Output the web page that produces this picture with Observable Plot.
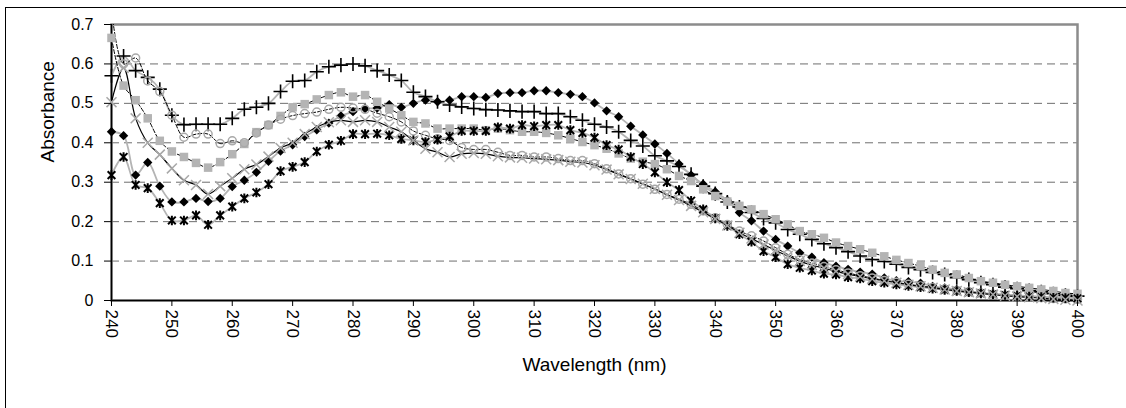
<!DOCTYPE html>
<html>
<head>
<meta charset="utf-8">
<script src="https://cdn.jsdelivr.net/npm/d3@7"></script>
<script src="https://cdn.jsdelivr.net/npm/@observablehq/plot@0.6"></script>
<style>
  html, body { margin: 0; padding: 0; background: #fff; overflow: hidden; }
  #wrap { position: relative; width: 1126px; height: 408px; overflow: hidden; }
  #outer { position: absolute; left: 5px; top: 7px; width: 1300px; height: 600px; border-left: 1px solid #000; border-top: 1px solid #000; }
  #chart { position: absolute; left: 0; top: 0; }
</style>
</head>
<body>
<div id="wrap"><div id="outer"></div><div id="chart"></div></div>
<script>
const wavelengths = [240,242,244,246,248,250,252,254,256,258,260,262,264,266,268,270,272,274,276,278,280,282,284,286,288,290,292,294,296,298,300,302,304,306,308,310,312,314,316,318,320,322,324,326,328,330,332,334,336,338,340,342,344,346,348,350,352,354,356,358,360,362,364,366,368,370,372,374,376,378,380,382,384,386,388,390,392,394,396,398,400];

const diamonds = [.428,.418,.318,.350,.290,.250,.250,.259,.251,.259,.289,.305,.325,.353,.379,.395,.416,.433,.450,.468,.479,.487,.488,.497,.490,.500,.508,.504,.508,.517,.517,.515,.525,.527,.527,.532,.532,.527,.523,.517,.501,.481,.466,.442,.420,.397,.373,.346,.318,.295,.276,.254,.223,.202,.176,.155,.138,.121,.110,.096,.087,.079,.072,.067,.057,.050,.048,.044,.036,.032,.028,.024,.020,.017,.015,.013,.011,.009,.008,.007,.007];

const pluses = [.570,.620,.583,.566,.536,.470,.446,.447,.447,.447,.462,.485,.490,.500,.530,.556,.558,.580,.593,.597,.600,.595,.583,.572,.558,.528,.517,.504,.496,.491,.487,.484,.483,.481,.479,.479,.474,.474,.466,.457,.447,.440,.428,.406,.392,.367,.354,.340,.320,.290,.271,.250,.237,.223,.208,.197,.180,.168,.155,.144,.134,.124,.113,.104,.099,.092,.084,.078,.071,.066,.058,.053,.045,.040,.034,.030,.025,.022,.017,.013,.011];

const squares = [.666,.545,.508,.462,.405,.378,.364,.349,.337,.351,.371,.397,.427,.445,.468,.490,.498,.510,.521,.528,.517,.521,.504,.487,.470,.453,.449,.436,.436,.436,.436,.432,.436,.432,.428,.428,.425,.419,.411,.402,.394,.385,.373,.360,.352,.346,.333,.316,.303,.282,.265,.251,.240,.231,.219,.206,.193,.176,.168,.159,.147,.138,.130,.121,.112,.103,.095,.087,.078,.070,.066,.057,.049,.045,.040,.036,.032,.028,.024,.019,.017];

const circles = [.740,.600,.615,.557,.530,.470,.414,.422,.422,.398,.405,.400,.425,.445,.460,.469,.474,.478,.485,.490,.488,.485,.475,.466,.453,.430,.419,.410,.406,.388,.383,.383,.376,.368,.368,.364,.364,.360,.355,.355,.347,.334,.321,.309,.295,.282,.269,.257,.244,.227,.210,.193,.176,.164,.151,.134,.117,.104,.095,.086,.078,.070,.063,.057,.051,.046,.041,.037,.033,.029,.025,.022,.019,.016,.013,.011,.009,.007,.005,.004,.003];

const asterisks = [.318,.364,.293,.285,.247,.203,.203,.216,.192,.216,.238,.259,.274,.295,.328,.339,.351,.378,.395,.405,.422,.422,.423,.419,.410,.406,.402,.408,.416,.430,.430,.430,.439,.436,.445,.442,.445,.445,.432,.425,.413,.394,.383,.364,.346,.325,.300,.280,.253,.231,.208,.189,.168,.149,.125,.110,.092,.083,.076,.068,.066,.059,.056,.049,.045,.041,.037,.034,.030,.027,.024,.021,.018,.016,.014,.012,.010,.009,.007,.006,.005];

const crosses = [.503,.590,.462,.400,.370,.335,.305,.293,.270,.290,.310,.333,.345,.365,.387,.400,.422,.440,.452,.457,.453,.457,.453,.440,.428,.406,.385,.376,.364,.372,.374,.372,.366,.363,.362,.360,.358,.356,.352,.350,.343,.332,.320,.308,.296,.283,.268,.255,.240,.224,.207,.190,.172,.157,.142,.127,.113,.100,.090,.082,.074,.067,.061,.055,.050,.045,.040,.036,.032,.028,.024,.021,.018,.015,.012,.010,.008,.006,.004,.002,.000];

const xTicks = [240,250,260,270,280,290,300,310,320,330,340,350,360,370,380,390,400];
const yTicks = [0,0.1,0.2,0.3,0.4,0.5,0.6,0.7];
const gridValues = [0.1,0.2,0.3,0.4,0.5,0.6];
const xTitle = "Wavelength (nm)";
const yTitle = "Absorbance";

const toRows = vals => wavelengths.map((w, i) => ({w, v: vals[i]}));

// Excel-style star marker: an x with a vertical bar
const starSymbol = {
  draw(ctx, size) {
    const r = Math.sqrt(size / Math.PI);
    const a = r * 0.8;
    ctx.moveTo(-a, -a); ctx.lineTo(a, a);
    ctx.moveTo(a, -a); ctx.lineTo(-a, a);
    ctx.moveTo(0, -r); ctx.lineTo(0, r);
  }
};

const GRAY_LINE = "#b4b4b4";
const GRAY_MARK = "#b4b4b4";
const curve = "catmull-rom";

const series = [
  {vals: diamonds, line: {stroke: GRAY_LINE, strokeWidth: 1.8}, dot: {symbol: "diamond2", r: 4.2, fill: "#000", stroke: "none"}},
  {vals: pluses, line: {stroke: GRAY_LINE, strokeWidth: 1.8}, dot: {symbol: "plus", r: 4.6, fill: "none", stroke: "#000", strokeWidth: 1.6}},
  {vals: squares, line: {stroke: "#000", strokeWidth: 1, strokeDasharray: "4,2"}, dot: {symbol: "square", r: 4.8, fill: GRAY_MARK, stroke: "none"}},
  {vals: circles, line: {stroke: "#000", strokeWidth: 1, strokeDasharray: "4,2"}, dot: {symbol: "circle", r: 4, fill: "none", stroke: "#a8a8a8", strokeWidth: 1.5}},
  {vals: asterisks, line: {stroke: GRAY_LINE, strokeWidth: 1.8}, dot: {symbol: starSymbol, r: 4.8, fill: "none", stroke: "#000", strokeWidth: 2}},
  {vals: crosses, line: {stroke: "#000", strokeWidth: 1.2}, dot: {symbol: "times", r: 4.6, fill: "none", stroke: "#a8a8a8", strokeWidth: 1.5}}
];

const marks = [
  Plot.ruleY(gridValues, {stroke: "#6e6e6e", strokeWidth: 1, strokeDasharray: "8,5"}),
  Plot.frame({stroke: "#8c8c8c", strokeWidth: 2.5}),
  Plot.ruleX([240], {stroke: "#000", strokeWidth: 1.5}),
  Plot.ruleY([0], {stroke: "#000", strokeWidth: 1.5})
];
for (const s of series) {
  const rows = toRows(s.vals);
  marks.push(Plot.line(rows, {x: "w", y: "v", curve, clip: true, ...s.line}));
}
for (const s of series) {
  const rows = toRows(s.vals).filter(d => d.v <= 0.7);
  marks.push(Plot.dot(rows, {x: "w", y: "v", ...s.dot}));
}
marks.push(
  Plot.axisX({ticks: xTicks, tickRotate: 90, tickSize: 6, tickPadding: 3, fontSize: 17, label: null, tickFormat: d => String(d)}),
  Plot.axisY({ticks: yTicks, tickSize: 7, tickPadding: 11, fontSize: 16, label: null, tickFormat: d => d === 0 ? "0" : d3.format(".1f")(d)}),
  Plot.text([yTitle], {frameAnchor: "left", rotate: -90, dx: -64, fontSize: 19, fill: "#000"}),
  Plot.text([xTitle], {frameAnchor: "bottom", dy: 70, fontSize: 19, fill: "#000"})
);

const chart = Plot.plot({
  width: 1126,
  height: 408,
  marginTop: 24,
  marginLeft: 111,
  marginRight: 49,
  marginBottom: 108,
  x: {domain: [240, 400]},
  y: {domain: [0, 0.7]},
  style: {fontFamily: "'Liberation Sans', Arial, sans-serif", fontSize: "16px", color: "#000", background: "transparent"},
  marks
});
document.getElementById("chart").appendChild(chart);
</script>
</body>
</html>
